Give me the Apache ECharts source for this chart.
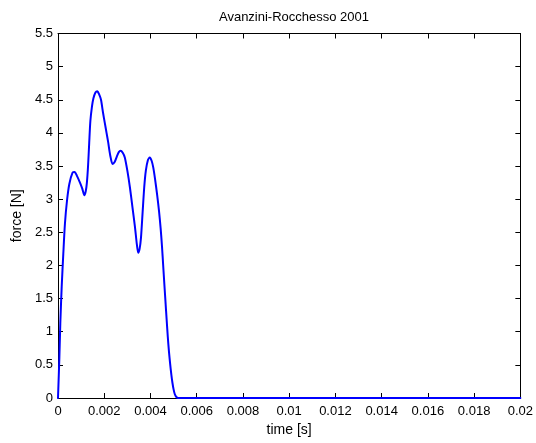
<!DOCTYPE html>
<html>
<head>
<meta charset="utf-8">
<script src="https://cdn.jsdelivr.net/npm/echarts@6/dist/echarts.min.js"></script>
<style>html,body{margin:0;padding:0;background:#fff}#c{width:536px;height:443px}</style>
</head>
<body>
<div id="c"></div>
<script>
var titleText = 'Avanzini-Rocchesso 2001';
var xName = 'time [s]';
var yName = 'force [N]';
var time = [0, 0.00006, 0.00010, 0.00016, 0.00023, 0.00030, 0.00039, 0.00049, 0.00063, 0.00072, 0.00081, 0.00095, 0.00105, 0.00114, 0.00120, 0.00125, 0.00130, 0.00135, 0.00140, 0.00147, 0.00153, 0.00162, 0.00170, 0.00178, 0.00186, 0.00195, 0.00203, 0.00210, 0.00217, 0.00226, 0.00236, 0.00245, 0.00254, 0.00263, 0.00271, 0.00280, 0.00289, 0.00300, 0.00311, 0.00322, 0.00333, 0.00341, 0.00347, 0.00353, 0.00359, 0.00366, 0.00373, 0.00380, 0.00389, 0.00397, 0.00405, 0.00412, 0.00420, 0.00429, 0.00437, 0.00444, 0.00450, 0.00455, 0.00460, 0.00465, 0.00470, 0.00475, 0.00480, 0.00485, 0.00490, 0.00495, 0.00500, 0.00505, 0.00512, 0.00520, 0.006, 0.008, 0.010, 0.012, 0.014, 0.016, 0.018, 0.020];
var force = [0, 0.62, 1.13, 1.68, 2.18, 2.63, 2.98, 3.23, 3.40, 3.41, 3.36, 3.25, 3.16, 3.06, 3.12, 3.25, 3.50, 3.85, 4.18, 4.40, 4.52, 4.61, 4.63, 4.58, 4.50, 4.30, 4.14, 4.00, 3.86, 3.66, 3.53, 3.56, 3.64, 3.71, 3.73, 3.70, 3.63, 3.43, 3.18, 2.88, 2.58, 2.32, 2.19, 2.25, 2.42, 2.80, 3.18, 3.43, 3.59, 3.63, 3.58, 3.48, 3.30, 3.06, 2.82, 2.56, 2.28, 2.00, 1.72, 1.45, 1.18, 0.92, 0.70, 0.52, 0.36, 0.23, 0.13, 0.06, 0.015, 0, 0, 0, 0, 0, 0, 0, 0, 0];
var xTicks = ['0', '0.002', '0.004', '0.006', '0.008', '0.01', '0.012', '0.014', '0.016', '0.018', '0.02'];
var yTicks = ['0', '0.5', '1', '1.5', '2', '2.5', '3', '3.5', '4', '4.5', '5', '5.5'];

var pts = time.map(function (t, i) { return [t, force[i]]; });
var font = 'Liberation Sans, Arial, sans-serif';
var chart = echarts.init(document.getElementById('c'), null, {renderer: 'canvas'});
var axisLine = {show: true, onZero: false, lineStyle: {color: '#000', width: 1}};
var tick = {show: true, inside: true, length: 5, lineStyle: {color: '#000', width: 1}};
chart.setOption({
  animation: false,
  backgroundColor: '#fff',
  title: {text: titleText, left: 289, top: 6, textAlign: 'center',
    textStyle: {fontFamily: font, fontSize: 13, fontWeight: 'normal', color: '#000'}},
  grid: {left: 58, right: 14.5, top: 33.5, bottom: 45, containLabel: false},
  xAxis: [{
    type: 'value', min: 0, max: 0.02, interval: 0.002, position: 'bottom',
    name: xName, nameLocation: 'middle', nameGap: 25,
    nameTextStyle: {fontFamily: font, fontSize: 14, color: '#000'},
    axisLine: axisLine, axisTick: tick, splitLine: {show: false},
    axisLabel: {fontFamily: font, fontSize: 13, color: '#000', margin: 7,
      formatter: function (v) { var i = Math.round(v / 0.002); return xTicks[i]; }}
  }, {
    type: 'value', min: 0, max: 0.02, interval: 0.002, position: 'top',
    axisLine: axisLine, axisTick: tick, splitLine: {show: false}, axisLabel: {show: false}
  }],
  yAxis: [{
    type: 'value', min: 0, max: 5.5, interval: 0.5, position: 'left',
    name: yName, nameLocation: 'middle', nameGap: 33,
    nameTextStyle: {fontFamily: font, fontSize: 14, color: '#000'},
    axisLine: axisLine, axisTick: tick, splitLine: {show: false},
    axisLabel: {fontFamily: font, fontSize: 13, color: '#000', margin: 5,
      formatter: function (v) { var i = Math.round(v / 0.5); return yTicks[i]; }}
  }, {
    type: 'value', min: 0, max: 5.5, interval: 0.5, position: 'right',
    axisLine: axisLine, axisTick: tick, splitLine: {show: false}, axisLabel: {show: false}
  }],
  series: [{
    type: 'line', data: pts, smooth: 0.25, showSymbol: false,
    lineStyle: {color: '#0000ff', width: 2, join: 'round', cap: 'round'}, clip: false
  }]
});
</script>
</body>
</html>
